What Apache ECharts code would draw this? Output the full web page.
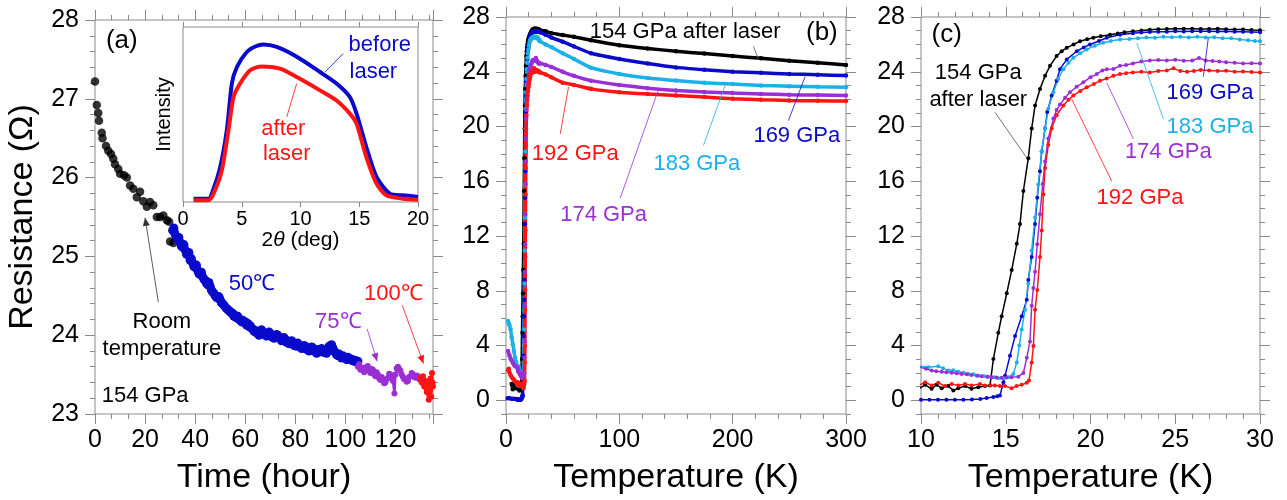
<!DOCTYPE html>
<html><head><meta charset="utf-8">
<script src="https://cdn.jsdelivr.net/npm/echarts@6/dist/echarts.min.js"></script>
<style>html,body{margin:0;padding:0;background:#fff}#c{width:1287px;height:500px}</style>
</head><body><div id="c"></div>
<script>
// ---------------- DATA ----------------
// Panel (a): resistance vs time at 154 GPa
const aRoom = [[0,27.22],[0.7,26.92],[1.3,26.82],[1.6,26.72],[2.7,26.57],[3,26.5],[4.4,26.4],[5.3,26.34],[6.4,26.3],[7.3,26.24],[8,26.17],[9.3,26.11],[10,26.05],[11.6,26.03],[12.7,26.0],[14,25.9],[15.3,25.86],[16.7,25.75],[18,25.82],[19.3,25.7],[20.7,25.63],[22,25.69],[23.3,25.65],[24.7,25.5],[26,25.5],[27.3,25.52],[28.7,25.46],[29.6,25.44],[30,25.19],[31.3,25.17]];
const a50C = [[31,25.33],[31.5,25.36],[32,25.28],[32.5,25.25],[33,25.22],[33.5,25.24],[34,25.18],[34.5,25.13],[35,25.12],[35.5,25.15],[36,25.08],[36.5,25.03],[37,25.02],[37.5,25.05],[38,24.95],[38.5,24.97],[39,24.92],[39.5,24.87],[40,24.86],[40.5,24.89],[41,24.82],[41.5,24.78],[42,24.77],[42.5,24.80],[43,24.74],[43.5,24.71],[44,24.70],[44.5,24.66],[45,24.64],[45.5,24.67],[46,24.62],[46.5,24.57],[47,24.55],[47.5,24.53],[48,24.50],[48.5,24.48],[49,24.47],[49.5,24.49],[50,24.45],[50.5,24.41],[51,24.40],[51.5,24.38],[52,24.36],[52.5,24.34],[53,24.33],[53.5,24.31],[54,24.30],[54.5,24.28],[55,24.28],[55.5,24.24],[56,24.25],[56.5,24.22],[57,24.24],[57.5,24.20],[58,24.20],[58.5,24.17],[59,24.19],[59.5,24.16],[60,24.17],[60.5,24.13],[61,24.15],[61.5,24.11],[62,24.12],[62.5,24.09],[63,24.08],[63.5,24.05],[64,24.06],[64.5,24.03],[65,24.03],[65.5,24.00],[66,24.05],[66.5,24.07],[67,24.04],[67.5,24.01],[68,24.02],[68.5,23.99],[69,24.00],[69.5,24.04],[70,24.02],[70.5,23.98],[71,23.99],[71.5,23.96],[72,23.98],[72.5,24.01],[73,24.00],[73.5,23.97],[74,23.96],[74.5,23.93],[75,23.94],[75.5,23.97],[76,23.95],[76.5,23.91],[77,23.92],[77.5,23.89],[78,23.90],[78.5,23.93],[79,23.91],[79.5,23.87],[80,23.88],[80.5,23.86],[81,23.90],[81.5,23.87],[82,23.86],[82.5,23.83],[83,23.84],[83.5,23.87],[84,23.86],[84.5,23.82],[85,23.83],[85.5,23.80],[86,23.82],[86.5,23.85],[87,23.84],[87.5,23.80],[88,23.80],[88.5,23.77],[89,23.82],[89.5,23.79],[90,23.79],[90.5,23.83],[91,23.81],[91.5,23.78],[92,23.80],[92.5,23.77],[93,23.82],[93.5,23.86],[94,23.85],[94.5,23.88],[95,23.84],[95.5,23.80],[96,23.78],[96.5,23.75],[97,23.74],[97.5,23.76],[98,23.73],[98.5,23.71],[99,23.74],[99.5,23.72],[100,23.71],[100.5,23.69],[101,23.72],[101.5,23.70],[102,23.70],[102.5,23.68],[103,23.69],[103.5,23.67],[104,23.68],[104.5,23.66],[105,23.67]];
const a75C = [[105,23.60],[105.5,23.63],[106,23.56],[106.5,23.59],[107,23.58],[107.5,23.53],[108,23.55],[108.5,23.60],[109,23.61],[109.5,23.55],[110,23.52],[110.5,23.57],[111,23.56],[111.5,23.50],[112,23.48],[112.5,23.53],[113,23.50],[113.5,23.45],[114,23.43],[114.5,23.47],[115,23.44],[115.5,23.39],[116,23.40],[116.5,23.44],[117,23.46],[117.5,23.51],[118,23.50],[118.5,23.45],[119,23.42],[119.6,23.26],[120,23.50],[120.5,23.58],[121,23.60],[121.5,23.57],[122,23.55],[122.5,23.50],[123,23.47],[123.5,23.44],[124,23.45],[124.5,23.41],[125,23.42],[125.5,23.47],[126,23.48],[126.5,23.52],[127,23.50],[127.5,23.47],[128,23.46],[128.5,23.49],[129,23.48],[129.5,23.44],[130,23.45]];
const a100C = [[130,23.46],[130.3,23.42],[130.5,23.40],[130.8,23.45],[131,23.48],[131.3,23.38],[131.5,23.35],[131.8,23.40],[132,23.42],[132.3,23.33],[132.5,23.28],[132.8,23.36],[133,23.38],[133.3,23.18],[133.5,23.24],[133.7,23.30],[134,23.45],[134.3,23.22],[134.6,23.52],[134.8,23.40],[135,23.35]];

// Inset: XRD intensity vs 2theta
const xrdBefore = [[0.9,1.9],[2.17,1.9],[2.6,7.6],[3.17,20],[3.73,41],[4.16,67.7],[4.58,77],[5.43,85.7],[6.2,89],[6.84,90],[7.98,88.6],[9.68,83],[11.66,74.3],[13.07,67.7],[14.2,60],[14.77,50.5],[15.6,31.4],[16.47,14.3],[17.6,4.8],[18.7,3.8],[20,2.9]];
const xrdAfter = [[0.9,1],[2.17,1],[2.6,4.8],[3.3,18],[3.87,41],[4.3,60],[4.86,67.7],[5.71,75.3],[6.7,77.5],[8.26,76.2],[9.68,71.4],[11.66,63.8],[13.07,58],[14.2,50.5],[14.77,44.8],[15.6,25.7],[16.47,10.5],[17.3,3.8],[18.7,1.9],[20,1.3]];

// Panels (b),(c): resistance vs temperature
const r154 = [[5,1.2],[6,0.8],[7,0.95],[8,1.15],[9,0.9],[9.94,0.89],[10.24,1.13],[10.63,0.84],[10.92,1.13],[11.22,0.89],[11.61,1.04],[11.91,0.72],[12.2,0.89],[12.6,1.04],[12.98,0.84],[13.38,0.96],[13.77,1.04],[14.07,1.08],[14.27,3.01],[14.56,4.93],[14.76,6.14],[15.06,7.82],[15.35,9.51],[15.65,11.43],[15.84,12.87],[16.04,15.29],[16.33,17.69],[16.53,19.86],[16.73,21.54],[17.02,22.74],[17.32,23.7],[17.61,24.43],[18.0,25.15],[18.3,25.5],[18.6,25.75],[19.0,26.0],[19.38,26.23],[19.8,26.38],[20.17,26.48],[20.6,26.6],[21.15,26.71],[21.6,26.8],[22.0,26.88],[22.5,26.95],[23.0,27.02],[23.5,27.07],[24.0,27.1],[24.5,27.12],[25.0,27.15],[25.5,27.14],[26.0,27.15],[26.5,27.13],[27.0,27.12],[27.5,27.14],[28.0,27.1],[28.5,27.08],[29.0,27.08],[29.5,27.05],[30.0,27.03],[35,26.95],[40,26.82],[50,26.68],[60,26.55],[75,26.3],[100,25.94],[125,25.7],[150,25.5],[175,25.33],[200,25.15],[225,24.98],[250,24.8],[275,24.65],[300,24.5]];
const r169 = [[1.5,0.15],[3,0.15],[5,0.12],[7,0.12],[9,0.1],[10,0.05],[10.5,0.05],[11,0.05],[11.5,0.05],[12,0.05],[12.5,0.05],[13,0.06],[13.5,0.1],[13.87,0.17],[14.27,0.24],[14.5,0.3],[14.66,0.36],[14.86,1.32],[14.96,1.8],[15.25,3.25],[15.55,4.69],[15.94,6.14],[16.24,7.34],[16.33,8.79],[16.53,10.47],[16.73,12.87],[16.86,14.8],[17.02,16.73],[17.12,18.17],[17.32,19.86],[17.45,21.06],[17.71,22.26],[18.0,23.34],[18.2,24.19],[18.6,24.9],[19.19,25.5],[19.6,25.78],[19.97,25.99],[20.5,26.25],[20.96,26.48],[21.74,26.71],[22.5,26.82],[23.0,26.86],[23.5,26.9],[24.0,26.92],[24.5,26.93],[25.0,26.95],[25.5,26.94],[26.0,26.95],[26.5,26.96],[27.0,26.95],[27.5,26.94],[28.0,26.95],[28.5,26.93],[29.0,26.92],[29.5,26.9],[30.0,26.88],[35,26.7],[40,26.5],[50,26.2],[60,25.85],[75,25.35],[100,24.93],[125,24.6],[150,24.32],[175,24.15],[200,24.0],[225,23.92],[250,23.84],[275,23.78],[300,23.72]];
const r183 = [[1.8,5.8],[2.5,5.6],[3,5.5],[4,5.2],[5,4.6],[6,4.1],[7,3.6],[8,3.1],[9,2.8],[9.94,2.48],[10.43,2.41],[11.02,2.48],[11.3,2.35],[11.61,2.17],[11.9,2.2],[12.2,2.09],[12.5,2.02],[12.79,1.93],[13.1,1.9],[13.38,1.81],[13.7,1.78],[13.97,1.73],[14.3,1.68],[14.56,1.61],[14.86,1.62],[15.15,1.68],[15.45,1.93],[15.65,2.77],[15.8,4.0],[15.94,5.18],[16.14,6.62],[16.33,8.54],[16.53,10.95],[16.73,13.36],[16.92,15.76],[17.12,18.17],[17.32,19.86],[17.51,21.3],[17.81,22.5],[18.1,23.47],[18.4,24.19],[18.7,24.65],[18.99,25.03],[19.4,25.35],[19.78,25.63],[20.25,25.9],[20.75,26.12],[21.2,26.25],[21.74,26.35],[22.3,26.4],[22.8,26.45],[23.3,26.5],[23.8,26.48],[24.3,26.55],[24.8,26.52],[25.3,26.55],[25.8,26.5],[26.3,26.55],[26.8,26.5],[27.3,26.52],[27.8,26.45],[28.3,26.45],[28.8,26.35],[29.3,26.3],[29.7,26.25],[30.0,26.22],[35,26.0],[40,25.8],[50,25.35],[60,24.93],[75,24.3],[100,23.84],[125,23.55],[150,23.36],[175,23.2],[200,23.1],[225,23.0],[250,22.95],[275,22.9],[300,22.87]];
const r174 = [[1.8,3.6],[3,3.3],[4,3.05],[5,2.9],[6,2.75],[7,2.6],[8,2.5],[9,2.45],[9.94,2.41],[10.3,2.3],[10.63,2.17],[10.9,2.12],[11.22,2.09],[11.5,2.05],[11.81,2.01],[12.1,1.98],[12.4,1.93],[12.7,1.9],[12.98,1.85],[13.3,1.8],[13.57,1.76],[13.9,1.72],[14.16,1.68],[14.45,1.66],[14.75,1.64],[15.05,1.66],[15.34,1.68],[15.74,1.73],[16.04,2.0],[16.24,3.1],[16.43,4.3],[16.53,6.9],[16.63,8.2],[16.73,9.4],[16.86,11.4],[17.02,13.6],[17.18,15.8],[17.32,17.45],[17.51,19.13],[17.81,20.58],[18.0,21.2],[18.2,21.6],[18.5,22.1],[18.79,22.5],[19.18,22.9],[19.58,23.23],[20.0,23.6],[20.37,23.83],[20.7,24.1],[20.96,24.19],[21.35,24.2],[21.74,24.43],[22.1,24.5],[22.5,24.6],[23.0,24.75],[23.5,24.82],[24.0,24.85],[24.5,24.82],[25.0,24.87],[25.5,24.8],[26.0,24.82],[26.4,25.0],[26.8,24.82],[27.2,24.78],[27.6,24.75],[28.0,24.7],[28.5,24.65],[29.0,24.6],[29.5,24.62],[30.0,24.6],[35,24.5],[40,24.35],[50,24.0],[60,23.7],[75,23.35],[100,23.04],[125,22.8],[150,22.63],[175,22.52],[200,22.44],[225,22.38],[250,22.32],[275,22.3],[300,22.27]];
const r192 = [[1.8,2.2],[2.5,2.3],[3,2.05],[4,1.85],[5,1.7],[6,1.6],[7,1.5],[8,1.4],[9,1.3],[9.94,1.13],[10.24,1.32],[10.63,1.08],[11.02,1.28],[11.42,1.04],[11.81,1.2],[12.2,1.08],[12.6,1.2],[12.98,1.08],[13.48,1.2],[13.77,1.08],[14.1,1.1],[14.36,1.08],[14.65,1.05],[14.95,1.04],[15.34,0.89],[15.64,1.04],[15.94,1.13],[16.24,1.28],[16.37,1.44],[16.53,2.77],[16.63,3.97],[16.73,6.62],[16.86,8.06],[17.02,10.47],[17.12,12.4],[17.22,15.04],[17.32,16.97],[17.51,18.65],[17.71,19.86],[18.0,20.82],[18.4,21.54],[18.7,21.95],[18.99,22.26],[19.4,22.6],[19.78,22.87],[20.2,23.1],[20.56,23.34],[20.95,23.5],[21.35,23.7],[21.74,23.83],[22.1,23.9],[22.5,23.95],[23.0,24.0],[23.5,23.95],[24.0,24.05],[24.5,24.1],[24.9,24.25],[25.3,24.05],[25.7,24.0],[26.1,24.05],[26.5,24.12],[27.0,24.1],[27.5,24.05],[28.0,24.08],[28.5,24.0],[29.0,24.02],[29.5,23.98],[30.0,23.95],[35,23.8],[40,23.6],[50,23.2],[60,23.04],[75,22.75],[100,22.5],[125,22.37],[150,22.27],[175,22.15],[200,22.03],[225,21.96],[250,21.9],[275,21.88],[300,21.86]];

const rMajorTicks = [0,4,8,12,16,20,24,28];

// ---------------- STYLE ----------------
const FONT = '"Liberation Sans", Arial, sans-serif';
const GRAY = '#8a8a8a';
const COL = {black:'#000000', blue:'#0a0acb', cyan:'#1cb0e8', purple:'#9a2fd6', red:'#ff1414'};

function ax(o){
  const base = {type:'value', axisLine:{show:false, onZero:false}, splitLine:{show:false},
    axisTick:{show:true, length:10, lineStyle:{color:GRAY, width:1}},
    axisLabel:{show:false}};
  const r = Object.assign(base, o);
  if (o.axisTick) r.axisTick = Object.assign({show:true, length:10, lineStyle:{color:GRAY, width:1}}, o.axisTick);
  return r;
}
const lbl = (size, margin, extra) => Object.assign({show:true, fontSize:size, color:'#000', fontFamily:FONT, margin:margin}, extra||{});
const minor = (n) => ({show:true, splitNumber:n, length:5, lineStyle:{color:GRAY, width:1}});
const nameStyle = {fontSize:34, color:'#000', fontFamily:FONT};

const grids = [
  {left:95, top:20, width:338, height:398},
  {left:183, top:27, width:235, height:175},
  {left:506, top:17, width:340, height:401},
  {left:921, top:17, width:339, height:401}
].map(g => Object.assign({show:true, borderColor:GRAY, borderWidth:1, backgroundColor:'#fff', containLabel:false}, g));

const xAxes = [
  ax({gridIndex:0, position:'bottom', min:0, max:135, interval:20, minorTick:minor(3),
      axisLabel:lbl(25,14,{formatter:v => (v % 20 === 0 ? String(v) : '')}),
      name:'Time (hour)', nameLocation:'middle', nameGap:47, nameTextStyle:nameStyle}),
  ax({gridIndex:0, position:'top', min:0, max:135, interval:20, minorTick:minor(3)}),
  ax({gridIndex:1, position:'bottom', min:0, max:20, interval:5, axisTick:{length:5},
      axisLabel:lbl(20,7),
      name:'2{i|θ} (deg)', nameLocation:'middle', nameGap:25,
      nameTextStyle:{fontSize:21, color:'#000', fontFamily:FONT, rich:{i:{fontSize:21, fontStyle:'italic', fontFamily:FONT}}}}),
  ax({gridIndex:1, position:'top', min:0, max:20, interval:5, axisTick:{length:5}}),
  ax({gridIndex:2, position:'bottom', min:0, max:300, interval:100, minorTick:minor(5),
      axisLabel:lbl(25,14),
      name:'Temperature (K)', nameLocation:'middle', nameGap:47, nameTextStyle:nameStyle}),
  ax({gridIndex:2, position:'top', min:0, max:300, interval:100, minorTick:minor(5)}),
  ax({gridIndex:3, position:'bottom', min:10, max:30, interval:5, minorTick:minor(5),
      axisLabel:lbl(25,14),
      name:'Temperature (K)', nameLocation:'middle', nameGap:47, nameTextStyle:nameStyle}),
  ax({gridIndex:3, position:'top', min:10, max:30, interval:5, minorTick:minor(5)})
];

function rAxes(grid, withLabel){
  const out = [];
  ['left','right'].forEach(pos => {
    const major = ax({gridIndex:grid, position:pos, min:-1, max:28,
      axisTick:{customValues:rMajorTicks, length:10}});
    if (pos === 'left' && withLabel) major.axisLabel = lbl(25,16,{customValues:rMajorTicks});
    out.push(major);
    out.push(ax({gridIndex:grid, position:pos, min:-1, max:28, interval:1, axisTick:{length:5}}));
  });
  return out;
}

const yAxes = [
  ax({gridIndex:0, position:'left', min:23, max:28, interval:1, minorTick:minor(5),
      axisLabel:lbl(25,16),
      name:'Resistance (Ω)', nameLocation:'middle', nameRotate:90, nameGap:55, nameTextStyle:nameStyle}),
  ax({gridIndex:0, position:'right', min:23, max:28, interval:1, minorTick:minor(5)}),
  ax({gridIndex:1, position:'left', min:0, max:100, axisTick:{show:false},
      name:'Intensity', nameLocation:'middle', nameRotate:90, nameGap:9,
      nameTextStyle:{fontSize:20, color:'#000', fontFamily:FONT}}),
  ...rAxes(2, true),   // indices 3..6
  ...rAxes(3, true)    // indices 7..10
];

const series = [];
series.push({type:'scatter', xAxisIndex:0, yAxisIndex:0, data:aRoom, symbolSize:8.5, itemStyle:{color:COL.black}, z:3});
series.push({type:'line', xAxisIndex:0, yAxisIndex:0, data:a50C, symbol:'circle', symbolSize:9, showAllSymbol:true,
  lineStyle:{color:COL.blue, width:8}, itemStyle:{color:COL.blue}, z:3});
series.push({type:'line', xAxisIndex:0, yAxisIndex:0, data:a75C, symbol:'circle', symbolSize:6, showAllSymbol:true,
  lineStyle:{color:COL.purple, width:2.5}, itemStyle:{color:COL.purple}, z:3});
series.push({type:'line', xAxisIndex:0, yAxisIndex:0, data:a100C, symbol:'circle', symbolSize:6, showAllSymbol:true,
  lineStyle:{color:COL.red, width:2.5}, itemStyle:{color:COL.red}, z:3});
series.push({type:'line', xAxisIndex:2, yAxisIndex:2, data:xrdBefore, symbol:'none', smooth:0.25,
  lineStyle:{color:COL.blue, width:4}, z:4});
series.push({type:'line', xAxisIndex:2, yAxisIndex:2, data:xrdAfter, symbol:'none', smooth:0.25,
  lineStyle:{color:COL.red, width:4}, z:4});

const samples = [[r154, COL.black],[r169, COL.blue],[r183, COL.cyan],[r174, COL.purple],[r192, COL.red]];
samples.forEach(([d, c]) => {
  series.push({type:'line', xAxisIndex:4, yAxisIndex:3, data:d, symbol:'circle', symbolSize:4.5, showAllSymbol:true,
    smooth:0.15, lineStyle:{color:c, width:3.5}, itemStyle:{color:c}, clip:true, z:3});
});
samples.forEach(([d, c]) => {
  series.push({type:'line', xAxisIndex:6, yAxisIndex:7, data:d, symbol:'circle', symbolSize:4, showAllSymbol:true,
    lineStyle:{color:c, width:1.5}, itemStyle:{color:c}, clip:true, z:3});
});

const chart = echarts.init(document.getElementById('c'), null, {renderer:'canvas'});
chart.setOption({animation:false, backgroundColor:'#fff', grid:grids, xAxis:xAxes, yAxis:yAxes, series:series});

// ---------------- ANNOTATIONS (data coordinates) ----------------
// [xAxisIndex, yAxisIndex, x, y, text, color, fontSize]
const notes = [
  [0,0,10.7,27.73,'(a)',COL.black,26],
  [0,0,26.7,24.17,'Room',COL.black,22],
  [0,0,26.7,23.83,'temperature',COL.black,22],
  [0,0,62.7,24.65,'50\u2103',COL.blue,22],
  [0,0,97.2,24.17,'75\u2103',COL.purple,22],
  [0,0,119.2,24.52,'100\u2103',COL.red,22],
  [2,2,16.75,89.5,'before',COL.blue,22],
  [2,2,16.2,74.3,'laser',COL.blue,22],
  [2,2,8.54,41.9,'after',COL.red,22],
  [2,2,8.83,27.7,'laser',COL.red,22],
  [4,3,158.1,26.93,'154 GPa after laser',COL.black,22],
  [4,3,278.7,26.82,'(b)',COL.black,26],
  [4,3,256.6,19.34,'169 GPa',COL.blue,22],
  [4,3,168.4,17.3,'183 GPa',COL.cyan,22],
  [4,3,86.1,13.56,'174 GPa',COL.purple,22],
  [4,3,61.1,18.02,'192 GPa',COL.red,22],
  [6,7,11.52,26.7,'(c)',COL.black,26],
  [6,7,13.38,23.93,'154 GPa',COL.black,22],
  [6,7,13.38,21.92,'after laser',COL.black,22],
  [6,7,27.05,22.48,'169 GPa',COL.blue,22],
  [6,7,27.05,19.95,'183 GPa',COL.cyan,22],
  [6,7,24.59,18.14,'174 GPa',COL.purple,22],
  [6,7,22.92,14.77,'192 GPa',COL.red,22]
];
// left-aligned note
const leftNotes = [[0,0,2.7,23.23,'154 GPa',COL.black,22]];
// [xAxisIndex, yAxisIndex, x1, y1, x2, y2, color, arrowHead]
const leaders = [
  [0,0,25.3,24.42,20,25.49,'#333',true],
  [0,0,108.7,24.08,112.7,23.67,COL.purple,true],
  [0,0,122.7,24.38,131.2,23.64,COL.red,true],
  [2,2,13.63,84.8,12.08,74.3,COL.blue,false],
  [2,2,9.68,67.7,8.83,48.6,COL.red,false],
  [4,3,218.3,25.85,222.8,24.9,'#555',false],
  [4,3,249.2,20.43,263.9,23.64,COL.blue,false],
  [4,3,174.2,18.62,193.4,23.0,COL.cyan,false],
  [4,3,100.8,14.77,134.6,22.72,COL.purple,false],
  [4,3,47.9,19.47,55.2,22.91,COL.red,false],
  [6,7,14.37,21.03,16.24,17.71,'#555',false],
  [6,7,26.66,23.64,26.95,26.46,COL.blue,false],
  [6,7,24.3,20.55,22.73,26.1,COL.cyan,false],
  [6,7,22.53,19.1,20.96,23.2,COL.purple,false],
  [6,7,21.25,16.02,18.89,22.0,COL.red,false]
];

const px = (xi, yi, x, y) => chart.convertToPixel({xAxisIndex:xi, yAxisIndex:yi}, [x, y]);
const graphic = [];
notes.forEach(([xi,yi,x,y,t,c,s]) => {
  const p = px(xi,yi,x,y);
  graphic.push({type:'text', x:p[0], y:p[1], z:100,
    style:{text:t, fill:c, fontSize:s, fontFamily:FONT, align:'center', verticalAlign:'middle'}});
});
leftNotes.forEach(([xi,yi,x,y,t,c,s]) => {
  const p = px(xi,yi,x,y);
  graphic.push({type:'text', x:p[0], y:p[1], z:100,
    style:{text:t, fill:c, fontSize:s, fontFamily:FONT, align:'left', verticalAlign:'middle'}});
});
leaders.forEach(([xi,yi,x1,y1,x2,y2,c,head]) => {
  const a = px(xi,yi,x1,y1), b = px(xi,yi,x2,y2);
  graphic.push({type:'line', z:100, shape:{x1:a[0], y1:a[1], x2:b[0], y2:b[1]},
    style:{stroke:c, lineWidth:1, opacity:0.8}});
  if (head) {
    const dx = b[0]-a[0], dy = b[1]-a[1], L = Math.hypot(dx,dy), ux = dx/L, uy = dy/L;
    const hl = 8, hw = 3.5;
    graphic.push({type:'polygon', z:100, shape:{points:[
      [b[0], b[1]],
      [b[0]-ux*hl - uy*hw, b[1]-uy*hl + ux*hw],
      [b[0]-ux*hl + uy*hw, b[1]-uy*hl - ux*hw]]}, style:{fill:c}});
  }
});
chart.setOption({graphic:graphic});
</script>
</body></html>
